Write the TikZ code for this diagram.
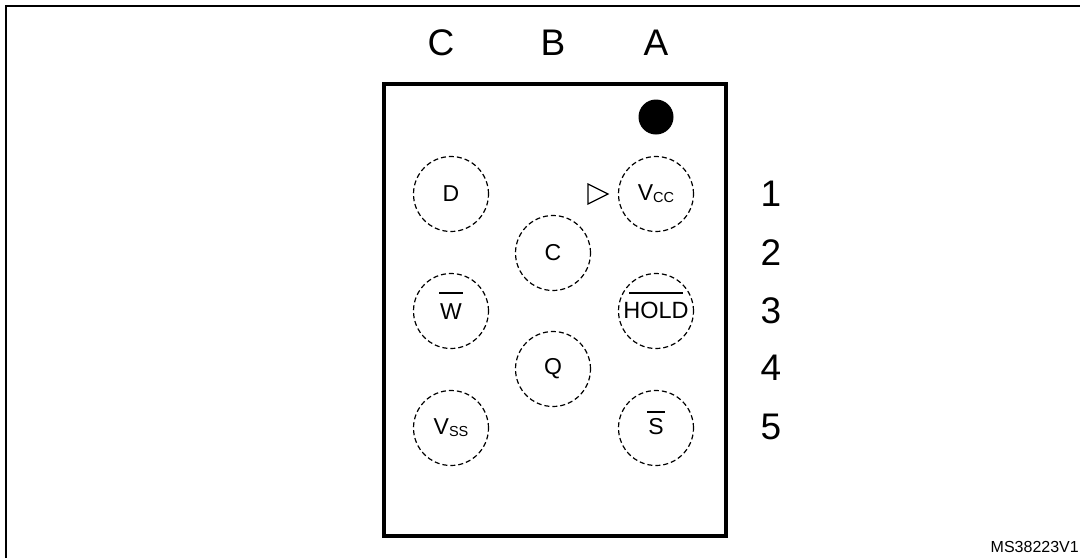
\documentclass[tikz,border=0pt]{standalone}
\usepackage{fontspec}
\setmainfont{Liberation Sans}
\tikzset{
  ball/.style={circle,draw,line width=1.2pt,dash pattern=on 5pt off 3pt,minimum size=75pt,inner sep=0pt,font=\fontsize{23}{25}\selectfont},
  big/.style={inner sep=0pt,font=\fontsize{37}{40}\selectfont},
  overbar/.style={line width=1.2pt}
}
\newcommand{\subt}[1]{\raisebox{-2pt}{\fontsize{14.5}{15}\selectfont #1}}
\begin{document}
\begin{tikzpicture}[x=1pt,y=-1pt]
\useasboundingbox (0,0) rectangle (1080,558);
\fill[white] (0,0) rectangle (1080,558);
\coordinate (fa) at (6,558);
\coordinate (fb) at (6,6);
\coordinate (fc) at (1080,6);
\draw[line width=2.3pt] (fa) -- (fb) -- (fc);
\node[draw,line width=4.5pt,outer sep=0pt,minimum width=342pt,minimum height=452pt,inner sep=0pt] (pkg) at (555,310) {};
\node[circle,fill=black,minimum size=35pt,inner sep=0pt] (dot) at (656,117) {};
\node[big] (cC) at (441,43) {C};
\node[big] (cB) at (553,43) {B};
\node[big] (cA) at (656,43) {A};
\node[big] (r1) at (771,194) {1};
\node[big] (r2) at (771,253) {2};
\node[big] (r3) at (771,311) {3};
\node[big] (r4) at (771,368) {4};
\node[big] (r5) at (771,427) {5};
\node[ball] (vcc) at (656,194) {V\subt{CC}};
\node[ball] (hold) at (656,311) {};
\node[ball] (s) at (656,428) {};
\node[ball] (d) at (451,194) {D};
\node[ball] (w) at (451,311) {};
\node[ball] (vss) at (451,428) {V\subt{SS}};
\node[ball] (c) at (553,253) {C};
\node[ball] (q) at (553,369) {Q};
\node[font=\fontsize{23}{25}\selectfont,inner sep=0pt] (tw) at (451,312) {W};
\node[font=\fontsize{23}{25}\selectfont,inner sep=0pt] (ts) at (656,427) {S};
\node[font=\fontsize{23.5}{25}\selectfont,inner sep=0pt] (th) at (656,310.5) {HOLD};
\draw[overbar] (439,293) -- (463,293);
\draw[overbar] (647,412) -- (665,412);
\draw[overbar] (629,293) -- (683,293);
\coordinate (t1) at (588,184);
\coordinate (t2) at (608,194);
\coordinate (t3) at (588,204);
\draw[line width=1.2pt] (t1) -- (t2) -- (t3) -- cycle;
\node[anchor=south east,inner sep=0pt,font=\fontsize{16}{18}\selectfont] (ref) at (1079,553) {MS38223V1};
\end{tikzpicture}
\end{document}
